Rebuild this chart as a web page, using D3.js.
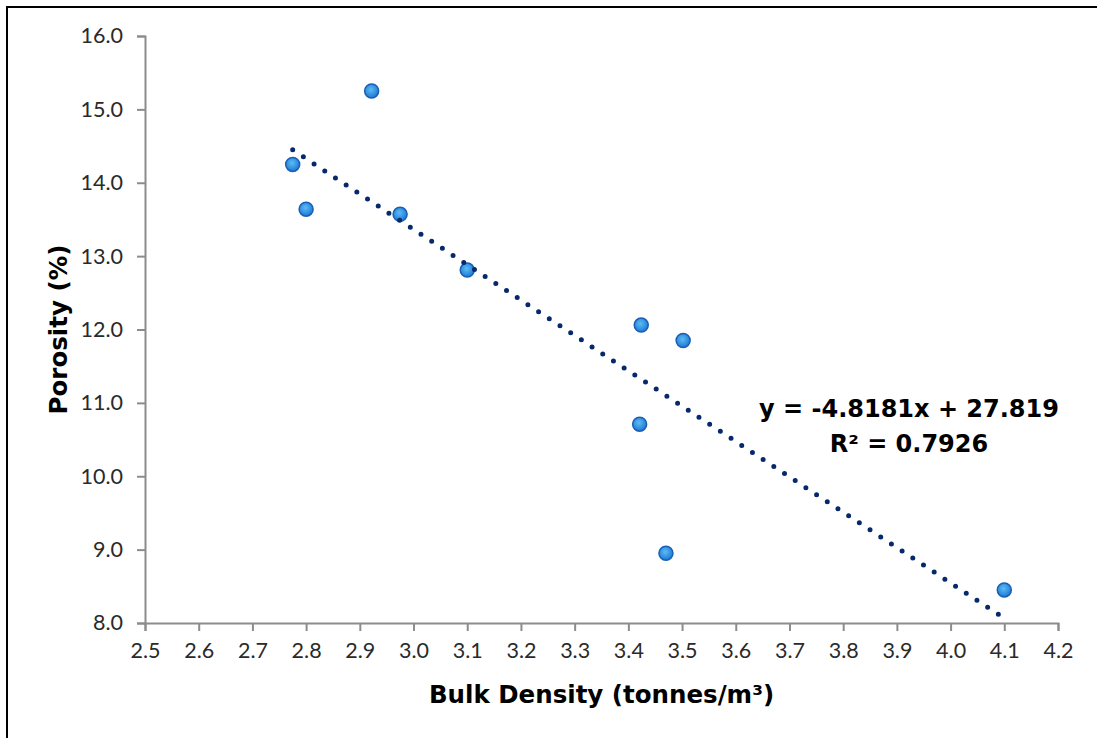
<!DOCTYPE html>
<html>
<head>
<meta charset="utf-8">
<script src="https://cdn.jsdelivr.net/npm/d3@7"></script>
<style>
  body { margin: 0; background: #fff; }
  svg { display: block; }
</style>
</head>
<body>
<svg id="chart" width="1097" height="738"></svg>
<script>
// bulk density vs porosity
const bulkDensity = [2.775, 2.80, 2.922, 2.975, 3.10, 3.424, 3.502, 3.421, 3.470, 4.10];
const porosity = [14.25, 13.64, 15.25, 13.57, 12.81, 12.06, 11.85, 10.71, 8.95, 8.45];

const xTicks = [2.5, 2.6, 2.7, 2.8, 2.9, 3.0, 3.1, 3.2, 3.3, 3.4, 3.5, 3.6, 3.7, 3.8, 3.9, 4.0, 4.1, 4.2];
const yTicks = [8, 9, 10, 11, 12, 13, 14, 15, 16];

// linear trendline as shown on the label
const trendSlope = -4.8181;
const trendIntercept = 27.819;
const trendLabel = ["y = -4.8181x + 27.819", "R\u00b2 = 0.7926"];

const xTitle = "Bulk Density (tonnes/m\u00b3)";
const yTitle = "Porosity (%)";

const svg = d3.select("#chart");
const plotL = 145, plotR = 1058, plotT = 36, plotB = 623;

const x = d3.scaleLinear().domain([2.5, 4.2]).range([plotL, plotR]);
const y = d3.scaleLinear().domain([8, 16]).range([plotB, plotT]);

// outer frame (only top and left show)
svg.append("rect")
  .attr("x", 7).attr("y", 7)
  .attr("width", 1300).attr("height", 1000)
  .attr("fill", "none")
  .attr("stroke", "#000")
  .attr("stroke-width", 2);

const defs = svg.append("defs");
const grad = defs.append("radialGradient")
  .attr("id", "dotFill")
  .attr("cx", "45%").attr("cy", "40%").attr("r", "60%");
grad.append("stop").attr("offset", "0%").attr("stop-color", "#5cbcf5");
grad.append("stop").attr("offset", "100%").attr("stop-color", "#1c78d4");

const axisColor = "#8c8c8c";

// axes
const xAxis = svg.append("g")
  .attr("transform", `translate(0,${plotB})`)
  .call(d3.axisBottom(x).tickValues(xTicks).tickFormat(d3.format(".1f")).tickSizeOuter(0).tickSize(8).tickPadding(12));

const yAxis = svg.append("g")
  .attr("transform", `translate(${plotL},0)`)
  .call(d3.axisLeft(y).tickValues(yTicks).tickFormat(d3.format(".1f")).tickSizeOuter(0).tickSize(8).tickPadding(14));

[xAxis, yAxis].forEach(g => {
  g.select(".domain").attr("stroke", axisColor).attr("stroke-width", 2);
  g.selectAll(".tick line").attr("stroke", axisColor).attr("stroke-width", 2);
  g.selectAll(".tick text")
    .attr("fill", "#2a2a2a")
    .style("font-family", "Lato, 'Open Sans', sans-serif")
    .style("font-size", "21.5px");
});

// axis titles
svg.append("text")
  .attr("x", (plotL + plotR) / 2)
  .attr("y", 703)
  .attr("text-anchor", "middle")
  .style("font-family", "'DejaVu Sans', sans-serif")
  .style("font-weight", "bold")
  .style("font-size", "24.5px")
  .attr("fill", "#000")
  .text(xTitle);

svg.append("text")
  .attr("transform", `translate(67,${(plotT + plotB) / 2}) rotate(-90)`)
  .attr("text-anchor", "middle")
  .style("font-family", "'DejaVu Sans', sans-serif")
  .style("font-weight", "bold")
  .style("font-size", "24.5px")
  .attr("fill", "#000")
  .text(yTitle);

// points
const pts = bulkDensity.map((d, i) => ({ bd: d, p: porosity[i] }));

svg.append("g")
  .selectAll("circle")
  .data(pts)
  .enter()
  .append("circle")
  .attr("cx", d => x(d.bd))
  .attr("cy", d => y(d.p))
  .attr("r", 7)
  .attr("fill", "url(#dotFill)")
  .attr("stroke", "#1a5fb4")
  .attr("stroke-width", 1.5);

// dotted trendline from min x to max x
const xMin = d3.min(bulkDensity), xMax = d3.max(bulkDensity);
const trend = [xMin, xMax].map(v => ({ bd: v, p: trendSlope * v + trendIntercept }));

svg.append("path")
  .datum(trend)
  .attr("d", d3.line().x(d => x(d.bd)).y(d => y(d.p)))
  .attr("fill", "none")
  .attr("stroke", "#06296b")
  .attr("stroke-width", 5)
  .attr("stroke-linecap", "round")
  .attr("stroke-dasharray", "0 12.8");

// trendline label
const lbl = svg.append("text")
  .attr("text-anchor", "middle")
  .style("font-family", "'DejaVu Sans', sans-serif")
  .style("font-weight", "bold")
  .style("font-size", "24px")
  .attr("fill", "#000");

lbl.selectAll("tspan")
  .data(trendLabel)
  .enter()
  .append("tspan")
  .attr("x", 909)
  .attr("y", (d, i) => 417 + i * 35)
  .text(d => d);
</script>
</body>
</html>
